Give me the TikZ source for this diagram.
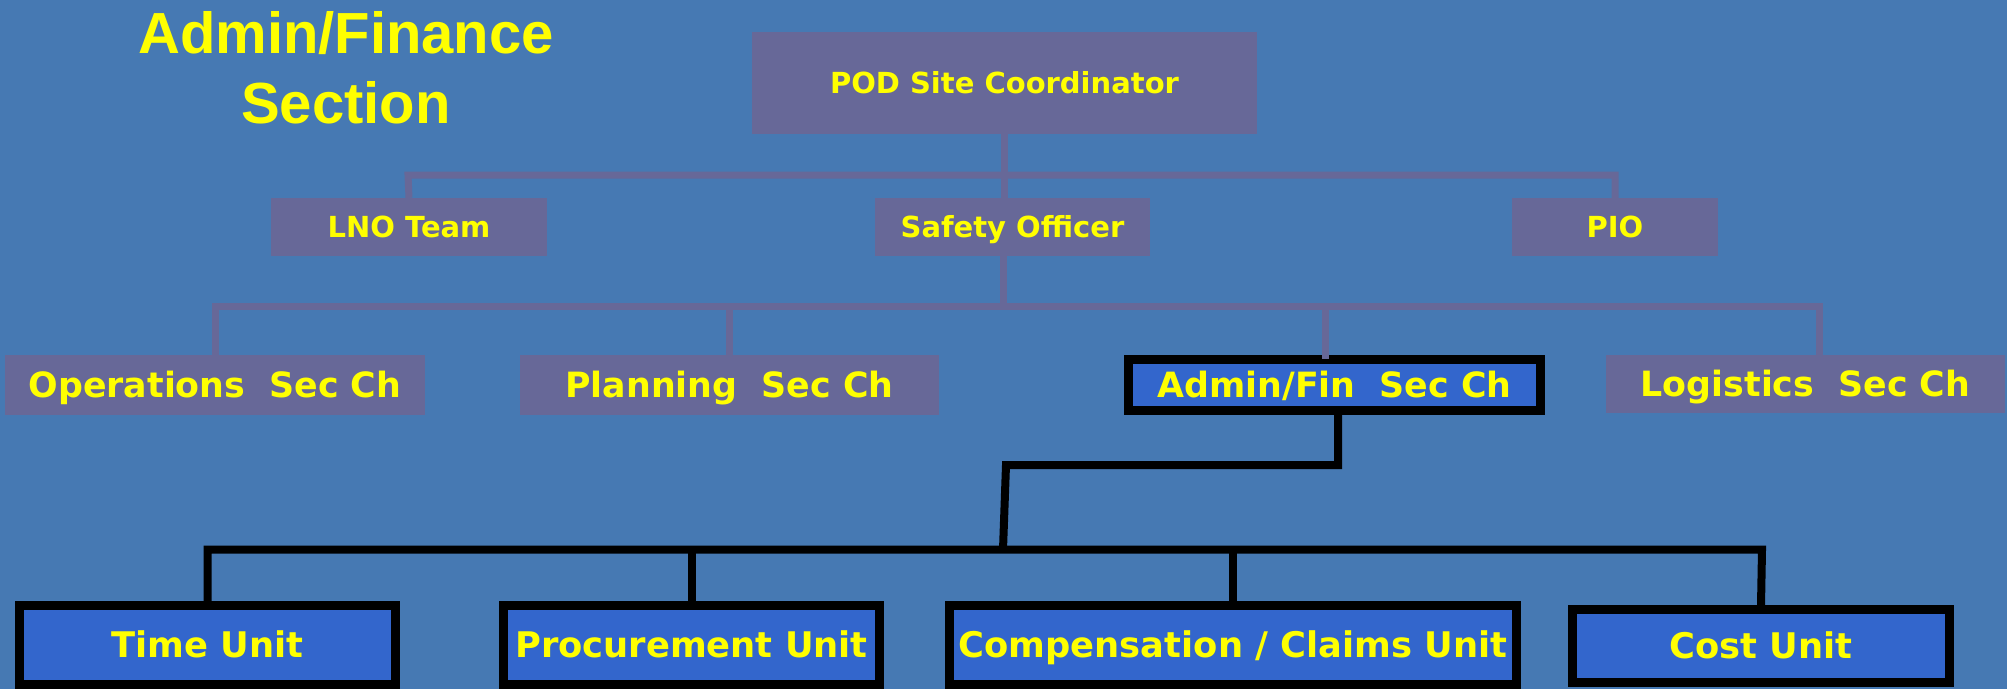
\documentclass[tikz,border=0pt]{standalone}
\usepackage{fontspec}
\newfontfamily\dvfont{DejaVu Sans}
\newfontfamily\libfont{Liberation Sans}
\definecolor{bgc}{RGB}{70,121,179}
\definecolor{puc}{RGB}{103,104,152}
\definecolor{blc}{RGB}{51,102,204}
\definecolor{ylc}{RGB}{255,255,0}
\tikzset{
  pbox/.style={fill=puc, inner sep=0pt, text=ylc, text depth=0pt},
  bbox/.style={fill=blc, draw=black, line width=9pt, inner sep=0pt, text=ylc, text depth=0pt},
  topf/.style={font=\dvfont\bfseries\fontsize{29}{35}\selectfont, text height=21pt},
  midf/.style={font=\dvfont\bfseries\fontsize{34.8}{41}\selectfont, text height=25.5pt},
  botf/.style={font=\dvfont\bfseries\fontsize{35.3}{42}\selectfont, text height=25.7pt},
  titlef/.style={font=\libfont\bfseries\fontsize{58}{70}\selectfont, text=ylc, inner sep=0pt, anchor=base},
  pline/.style={draw=puc, line width=7pt},
  bline/.style={draw=black, line width=8pt}
}
\begin{document}
\begin{tikzpicture}[x=1pt,y=-1pt]
\fill[bgc] (0,0) rectangle (2007,689);
\useasboundingbox (0,0) rectangle (2007,689);
% title
\node[titlef] (t1) at (346,53) {Admin/Finance};
\node[titlef] (t2) at (346,123) {Section};
% top level
\node[pbox, topf, minimum width=505pt, minimum height=102pt] (pod) at (1004.5,83) {POD Site Coordinator};
\node[pbox, topf, minimum width=276pt, minimum height=58pt] (lno) at (409,227) {LNO Team};
\node[pbox, topf, minimum width=275pt, minimum height=58pt] (safety) at (1012.5,227) {Safety Officer};
\node[pbox, topf, minimum width=206pt, minimum height=58pt] (pio) at (1615,227) {PIO};
% sections
\node[pbox, midf, minimum width=420pt, minimum height=60pt] (ops) at (215,385) {Operations\ \ Sec Ch};
\node[pbox, midf, minimum width=419pt, minimum height=60pt] (plan) at (729.5,385) {Planning\ \ Sec Ch};
\node[bbox, midf, minimum width=412pt, minimum height=51pt] (admin) at (1334.5,385) {Admin/Fin\ \ Sec Ch};
\node[pbox, midf, minimum width=399pt, minimum height=58pt] (logi) at (1805.5,384) {Logistics\ \ Sec Ch};
% units
\node[bbox, botf, minimum width=376pt, minimum height=79pt] (time) at (207.5,645) {Time Unit};
\node[bbox, botf, minimum width=376pt, minimum height=79pt] (proc) at (691.5,645) {Procurement Unit};
\node[bbox, botf, minimum width=567pt, minimum height=79pt] (comp) at (1233,645) {Compensation / Claims Unit};
\node[bbox, botf, minimum width=377pt, minimum height=73pt] (cost) at (1761,646) {Cost Unit};
% purple connectors
\coordinate (b1L) at (408,175);
\coordinate (b1R) at (1615,175);
\draw[pline] (lno.north) -- (b1L) -- (b1R) -- (pio.north);
\draw[pline] (pod.south) -- (pod.south |- safety.north);
\coordinate (b2R) at (1819,306);
\draw[pline] (ops.north) |- (b2R) -- (b2R |- logi.north);
\draw[pline] (plan.north) -- (plan.north |- b2R);
\draw[pline] ([xshift=-9pt]safety.south) -- ([xshift=-9pt]safety.south |- b2R);
\coordinate (ast) at (1325,359);
\draw[pline] (ast |- b2R) -- (ast);
% black connectors
\coordinate (b3a) at (1006,465);
\coordinate (b3m) at (1003,549.5);
\coordinate (b3R) at (1762,549.5);
\draw[bline] ([xshift=3.5pt]admin.south) |- (b3a) -- (b3m);
\draw[bline] (time.north) |- (b3R) -- (cost.north);
\draw[bline] (proc.north) -- (proc.north |- b3R);
\draw[bline] (comp.north) -- (comp.north |- b3R);
\end{tikzpicture}
\end{document}
